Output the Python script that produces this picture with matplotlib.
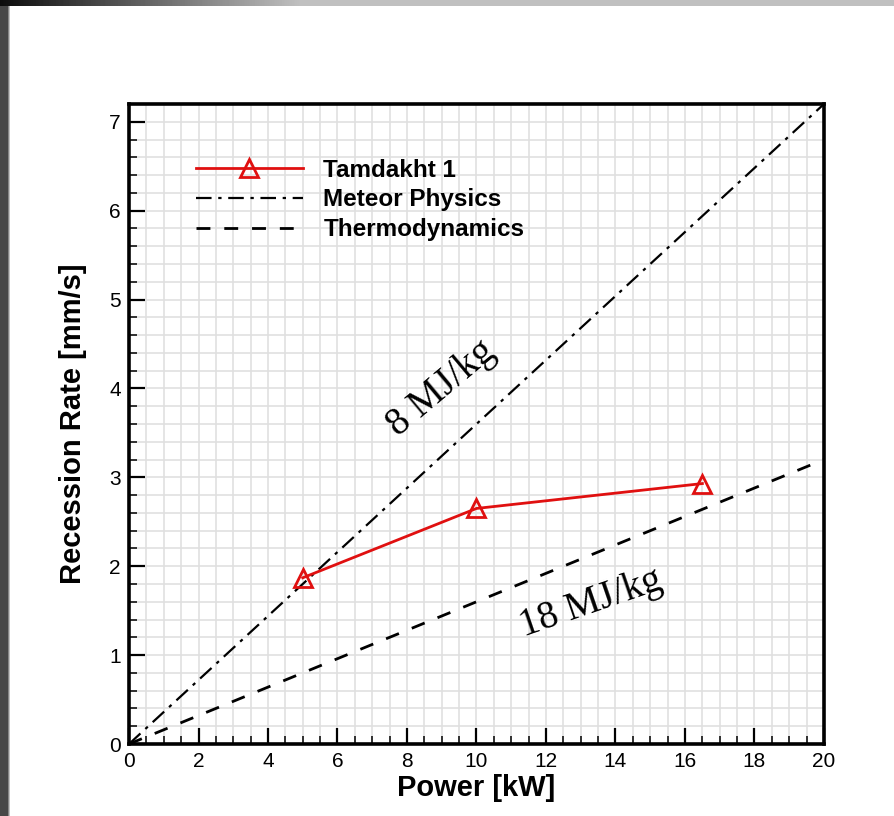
import numpy as np
import matplotlib
matplotlib.use("Agg")
import matplotlib.pyplot as plt
from matplotlib.ticker import MultipleLocator

# ---- data ----
tamdakht_power = [5.0, 10.0, 16.5]
tamdakht_rate = [1.87, 2.65, 2.93]
model_power = [0.0, 20.0]
meteor_rate = [0.0, 7.2]       # 8 MJ/kg
thermo_rate = [0.0, 3.2]       # 18 MJ/kg
x_ticks = [0, 2, 4, 6, 8, 10, 12, 14, 16, 18, 20]
y_ticks = [0, 1, 2, 3, 4, 5, 6, 7]

W, H = 894, 816
fig = plt.figure(figsize=(W / 100, H / 100), dpi=100)
fig.patch.set_facecolor("white")

# background decoration (dark photo edges)
bg = fig.add_axes([0, 0, 1, 1], zorder=-10)
img = np.ones((H, W))
xs = np.arange(W)
ys = np.arange(H)
edge = np.clip((xs - 7) / 3.0, 0, 1)
img *= (0.28 + 0.72 * edge)[None, :]
top_band = ys < 6
grad = 0.05 + 0.7 * np.clip(xs / 300.0, 0, 1)
img[top_band, :] = np.minimum(img[top_band, :], grad[None, :])
bg.imshow(img, cmap="gray", vmin=0, vmax=1, extent=[0, W, H, 0], aspect="auto", interpolation="bilinear")
bg.set_xlim(0, W)
bg.set_ylim(H, 0)
bg.axis("off")

ax = fig.add_axes([129 / W, 72 / H, 695 / W, 640 / H])
ax.set_facecolor("white")

sans = ["Liberation Sans", "DejaVu Sans"]
serif = ["Liberation Serif", "DejaVu Serif"]

ax.plot(tamdakht_power, tamdakht_rate, color="#e01010", lw=2.0, marker="^",
        ms=13, mfc="none", mec="#e01010", mew=2.0, label="Tamdakht 1", zorder=5)
ax.plot(model_power, meteor_rate, color="black", lw=1.6,
        dashes=(7, 3, 1.5, 3), label="Meteor Physics", zorder=4)
ax.plot(model_power, thermo_rate, color="black", lw=2.0,
        dashes=(5, 5), label="Thermodynamics", zorder=4)

ax.set_xlim(0, 20)
ax.set_ylim(0, 7.2)
ax.set_xticks(x_ticks)
ax.set_yticks(y_ticks)
ax.xaxis.set_minor_locator(MultipleLocator(0.5))
ax.yaxis.set_minor_locator(MultipleLocator(0.2))
ax.grid(which="both", color="#e0e0e0", lw=1.2, zorder=0)
ax.set_axisbelow(True)

ax.tick_params(which="major", direction="in", length=11.5, width=1.6,
               labelsize=15, top=False, right=False, pad=6)
ax.tick_params(which="minor", direction="in", length=5.8, width=1.1,
               top=False, right=False)
for lab in ax.get_xticklabels() + ax.get_yticklabels():
    lab.set_family(sans)
for s in ax.spines.values():
    s.set_linewidth(2.6)

ax.set_xlabel("Power [kW]", fontsize=21, fontweight="bold", family=sans, labelpad=2)
ax.set_ylabel("Recession Rate [mm/s]", fontsize=21, fontweight="bold", family=sans, labelpad=16)

leg = ax.legend(loc="upper left", bbox_to_anchor=(0.082, 0.93), frameon=False,
                handlelength=4.4, handletextpad=0.85, labelspacing=0.28,
                numpoints=1, borderaxespad=0,
                prop={"family": sans, "weight": "bold", "size": 17.5})

ax.text(9.0, 4.0, "8 MJ/kg", family=serif, fontsize=28, rotation=40,
        ha="center", va="center", rotation_mode="anchor")
ax.text(13.3, 1.58, "18 MJ/kg", family=serif, fontsize=28, rotation=19,
        ha="center", va="center", rotation_mode="anchor")

fig.savefig("out.png", dpi=100)
